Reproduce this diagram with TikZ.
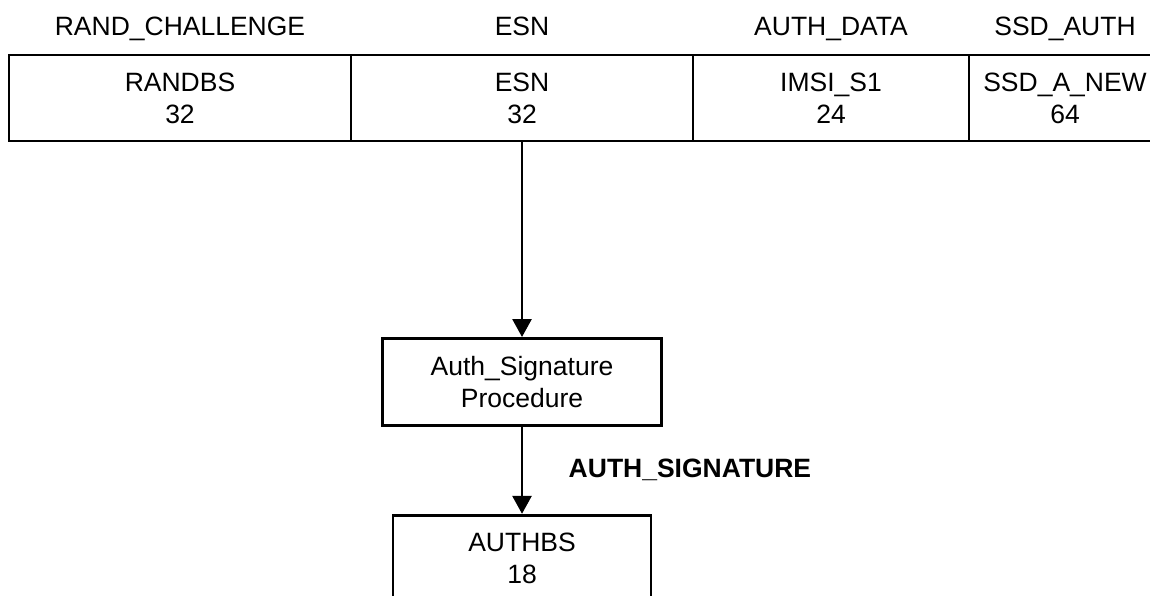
\documentclass[tikz,border=0pt]{standalone}
\usepackage{fontspec}
\setmainfont{Liberation Sans}
\usetikzlibrary{arrows.meta,positioning}

\begin{document}
\begin{tikzpicture}[x=1pt,y=-1pt,>={Triangle[length=18pt,width=19pt]},
                    line width=2.8pt,font=\fontsize{26.5}{32}\selectfont,
                    field/.style={rectangle,draw,align=center,minimum height=86pt,
                                  inner sep=0pt,outer sep=0pt},
                    proc/.style={rectangle,draw,align=center,minimum height=87pt,inner sep=0pt}]
  \clip (0,0) rectangle (1150,595);
  % message fields
  \node[field,minimum width=342pt,anchor=north west] (randbs) at (9,55) {RANDBS\\32};
  \node[field,minimum width=342pt,right=0pt of randbs] (esn) {ESN\\32};
  \node[field,minimum width=276pt,right=0pt of esn] (imsi) {IMSI\_S1\\24};
  \node[field,minimum width=192pt,right=0pt of imsi] (ssd) {SSD\_A\_NEW\\64};
  \node[anchor=base] (randhdr) at (randbs.north |- 0,35) {RAND\_CHALLENGE};
  \node[anchor=base] (esnhdr) at (esn.north |- 0,35) {ESN};
  \node[anchor=base] (authhdr) at (imsi.north |- 0,35) {AUTH\_DATA};
  \node[anchor=base] (ssdhdr) at (ssd.north |- 0,35) {SSD\_AUTH};
  % procedure and result
  \node[proc,minimum width=279pt,below=196pt of esn] (sig) {Auth\_Signature\\Procedure};
  \node[proc,minimum width=258pt,minimum height=86pt,below=87pt of sig] (authbs) {AUTHBS\\18};
  \draw[->] (esn) -- (sig);
  \draw[->] (sig) -- node[right=42pt,font=\fontsize{26.5}{32}\selectfont\bfseries] {AUTH\_SIGNATURE} (authbs);
\end{tikzpicture}
\end{document}
